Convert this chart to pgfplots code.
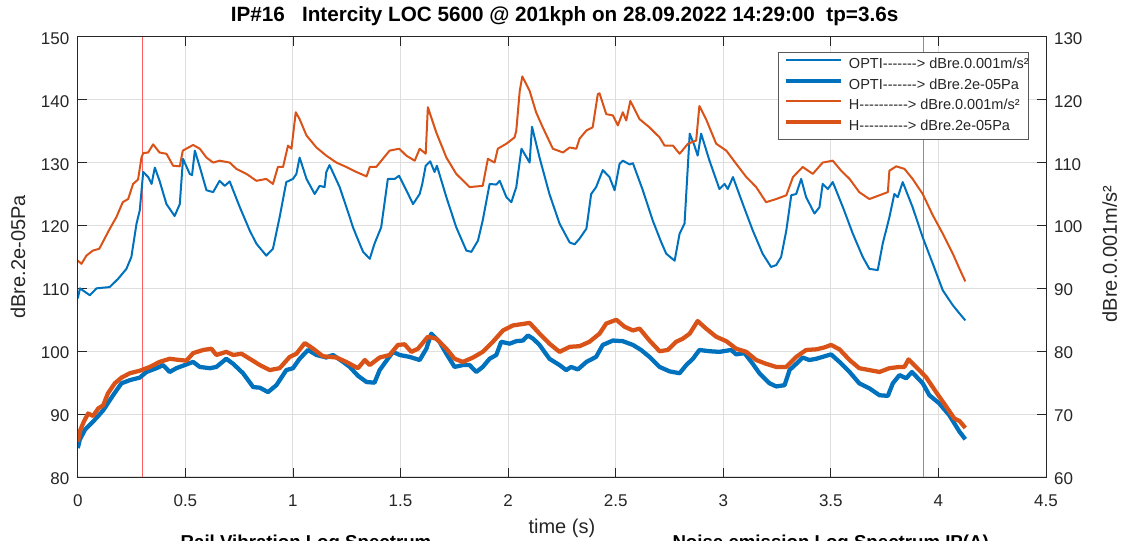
\documentclass[border=0pt]{standalone}
\usepackage{fontspec}
\setmainfont{Liberation Sans}[Ligatures=TeXOff]
\usepackage{pgfplots}
\usepackage{pgfplotstable}
\pgfplotsset{compat=1.18}
\definecolor{mblue}{RGB}{0,114,189}
\definecolor{morange}{RGB}{217,83,25}
\definecolor{mred}{RGB}{255,95,95}
\definecolor{axc}{RGB}{38,38,38}
\definecolor{gridc}{RGB}{222,222,222}

% thin orange: H, dBre.0.001m/s^2 (right axis)
\pgfplotstableread{
t v
0.000 94.4
0.017 93.9
0.040 95.2
0.070 96.0
0.100 96.3
0.149 99.5
0.179 101.3
0.209 103.7
0.234 104.2
0.257 106.6
0.280 107.3
0.296 110.8
0.304 111.5
0.327 111.6
0.350 112.9
0.380 111.6
0.412 111.4
0.443 109.5
0.474 109.4
0.488 111.9
0.536 112.8
0.567 112.2
0.598 110.8
0.629 110.0
0.659 110.3
0.706 110.0
0.737 109.0
0.784 108.2
0.830 107.1
0.876 107.4
0.907 106.6
0.930 109.3
0.954 109.3
0.977 112.7
0.993 112.2
1.013 118.0
1.031 116.9
1.063 114.3
1.109 112.4
1.155 111.1
1.202 110.0
1.248 109.3
1.295 108.5
1.342 107.8
1.357 109.3
1.387 109.3
1.418 110.6
1.449 111.9
1.494 112.2
1.527 111.1
1.566 110.3
1.589 112.2
1.617 111.4
1.627 118.8
1.666 114.8
1.713 110.8
1.759 108.2
1.821 106.1
1.882 106.3
1.906 110.6
1.937 110.0
1.952 112.2
1.992 113.0
2.030 114.0
2.038 115.1
2.054 121.4
2.066 123.7
2.100 121.4
2.130 118.0
2.161 115.6
2.208 112.2
2.255 111.6
2.286 112.4
2.317 112.2
2.332 113.8
2.364 115.1
2.393 115.6
2.417 120.9
2.425 121.0
2.456 117.7
2.487 117.5
2.510 115.9
2.533 118.0
2.549 116.7
2.568 119.8
2.611 116.9
2.657 115.6
2.704 114.0
2.727 112.7
2.766 112.7
2.797 111.4
2.836 113.0
2.874 113.5
2.889 119.0
2.920 116.9
2.967 113.0
3.014 111.9
3.060 109.8
3.107 107.7
3.153 106.1
3.199 103.7
3.246 104.2
3.293 104.8
3.324 107.7
3.369 109.3
3.416 108.2
3.462 110.0
3.509 110.3
3.548 108.7
3.587 107.4
3.632 105.3
3.679 104.2
3.726 104.8
3.765 105.3
3.772 108.7
3.804 109.4
3.842 109.0
3.880 107.4
3.927 105.0
3.974 101.6
4.020 98.7
4.067 95.5
4.098 93.1
4.125 91.1
}\Hthin

% thin blue: OPTI, dBre.0.001m/s^2 (right axis)
\pgfplotstableread{
t v
0.000 88.4
0.010 90.0
0.056 88.9
0.087 90.0
0.148 90.2
0.187 91.5
0.226 93.1
0.249 95.0
0.273 100.3
0.288 102.4
0.304 108.5
0.327 107.7
0.343 106.6
0.358 109.2
0.380 107.1
0.412 103.4
0.450 101.5
0.474 103.4
0.489 110.6
0.520 108.2
0.531 108.0
0.544 111.9
0.567 109.3
0.598 105.6
0.629 105.3
0.659 107.1
0.683 106.3
0.706 107.0
0.753 102.9
0.799 99.2
0.830 97.1
0.876 95.2
0.907 96.3
0.938 101.3
0.969 106.9
1.000 107.4
1.016 108.2
1.031 110.8
1.063 107.4
1.101 105.0
1.124 106.3
1.147 106.1
1.155 108.5
1.170 109.6
1.217 106.1
1.264 101.3
1.279 99.7
1.310 97.1
1.326 95.8
1.357 94.7
1.379 97.1
1.410 99.7
1.441 107.4
1.473 107.4
1.493 107.9
1.527 105.6
1.558 103.4
1.589 105.0
1.601 106.6
1.617 109.5
1.638 110.2
1.658 108.5
1.669 109.5
1.713 104.5
1.759 99.7
1.806 96.0
1.829 95.8
1.860 97.6
1.882 100.8
1.914 106.6
1.945 106.5
1.961 107.1
1.992 104.5
2.015 103.7
2.038 106.1
2.062 112.2
2.100 110.0
2.111 115.7
2.146 110.8
2.192 105.0
2.239 100.3
2.286 97.3
2.309 97.0
2.332 97.9
2.364 99.5
2.386 105.0
2.409 106.1
2.440 108.8
2.471 107.7
2.495 105.6
2.518 109.8
2.533 110.3
2.565 109.7
2.580 109.9
2.626 105.6
2.672 100.8
2.712 97.3
2.735 95.5
2.774 94.4
2.797 98.7
2.820 100.3
2.844 114.6
2.866 112.7
2.881 111.1
2.897 114.6
2.936 110.3
2.982 105.8
3.006 106.6
3.021 105.8
3.045 107.7
3.091 103.4
3.137 99.2
3.183 95.5
3.222 93.4
3.246 93.7
3.269 95.0
3.293 99.2
3.316 104.8
3.339 105.0
3.362 107.4
3.385 104.5
3.424 101.9
3.447 102.9
3.462 106.6
3.486 105.8
3.509 106.9
3.556 102.9
3.602 98.7
3.648 95.0
3.679 93.1
3.718 92.9
3.741 97.1
3.772 101.3
3.795 105.0
3.811 104.5
3.834 106.9
3.880 102.9
3.927 98.1
3.974 93.9
4.020 89.7
4.067 87.3
4.098 86.0
4.125 84.9
}\Othin

% thick blue: OPTI, dBre.2e-05Pa (left axis)
\pgfplotstableread{
t v
0.000 84.6
0.009 85.9
0.033 87.5
0.071 88.8
0.118 90.6
0.164 93.0
0.203 94.9
0.242 95.4
0.288 95.8
0.319 96.7
0.366 97.3
0.396 97.8
0.427 96.7
0.458 97.3
0.505 97.9
0.536 98.3
0.567 97.5
0.614 97.3
0.644 97.5
0.690 98.8
0.722 98.0
0.768 96.5
0.815 94.3
0.846 94.2
0.884 93.5
0.923 94.6
0.969 97.0
1.000 97.3
1.031 98.8
1.070 100.2
1.109 99.4
1.155 99.0
1.186 99.4
1.233 98.3
1.264 97.5
1.302 96.1
1.342 95.1
1.379 95.0
1.403 97.0
1.441 98.8
1.465 99.9
1.496 99.4
1.542 99.1
1.589 98.6
1.620 100.4
1.643 102.8
1.681 101.5
1.713 99.6
1.751 97.5
1.790 97.8
1.821 97.8
1.852 96.7
1.882 97.5
1.914 98.8
1.945 99.4
1.968 101.5
2.007 101.2
2.038 101.6
2.069 101.7
2.092 102.5
2.116 102.0
2.146 101.0
2.192 98.8
2.239 97.8
2.270 97.0
2.293 97.5
2.324 97.1
2.364 98.3
2.409 99.1
2.440 101.0
2.487 101.7
2.533 101.6
2.580 101.0
2.618 100.2
2.657 99.1
2.704 97.5
2.750 96.8
2.797 96.5
2.828 97.8
2.859 98.8
2.889 100.2
2.936 100.0
2.982 99.9
3.037 100.2
3.060 99.5
3.099 99.7
3.137 98.0
3.168 96.5
3.215 94.9
3.246 94.4
3.285 94.6
3.308 97.0
3.339 98.0
3.369 99.0
3.400 98.6
3.432 98.8
3.462 99.1
3.501 99.5
3.540 98.3
3.587 96.7
3.632 94.9
3.679 94.1
3.726 93.0
3.765 92.9
3.788 94.9
3.819 96.2
3.850 95.7
3.877 96.7
3.927 94.9
3.958 93.0
4.004 91.7
4.051 89.8
4.098 87.2
4.125 86.0
}\Othick

% thick orange: H, dBre.2e-05Pa (left axis)
\pgfplotstableread{
t v
0.000 85.6
0.012 87.5
0.028 88.8
0.048 90.1
0.071 89.7
0.095 90.9
0.118 91.4
0.140 93.3
0.172 94.9
0.203 95.8
0.242 96.5
0.288 96.9
0.335 97.5
0.380 98.3
0.427 98.8
0.474 98.6
0.505 98.5
0.536 99.7
0.583 100.2
0.621 100.4
0.644 99.4
0.690 99.9
0.722 99.4
0.761 99.6
0.799 98.8
0.846 97.8
0.892 97.0
0.938 97.3
0.985 99.1
1.016 99.6
1.055 101.3
1.094 100.4
1.139 99.2
1.202 99.0
1.248 98.3
1.302 97.3
1.334 98.6
1.357 97.8
1.403 99.0
1.449 99.4
1.488 101.0
1.519 101.1
1.550 99.9
1.581 100.4
1.627 102.3
1.666 102.0
1.713 100.4
1.751 98.8
1.790 98.3
1.837 99.0
1.882 99.9
1.929 101.5
1.976 103.3
2.022 104.1
2.062 104.3
2.100 104.5
2.146 102.8
2.192 101.2
2.239 99.9
2.286 100.7
2.332 100.8
2.378 101.5
2.425 102.8
2.456 104.4
2.503 105.0
2.541 103.9
2.580 103.3
2.611 103.6
2.657 101.7
2.704 100.0
2.742 100.2
2.781 101.5
2.812 102.0
2.844 102.8
2.881 104.8
2.920 103.6
2.967 102.3
3.014 101.6
3.060 100.4
3.107 99.9
3.153 98.6
3.199 98.0
3.246 97.5
3.293 97.5
3.339 99.1
3.385 100.2
3.432 100.3
3.470 100.6
3.501 101.0
3.540 100.3
3.587 98.6
3.632 97.3
3.679 97.0
3.726 96.7
3.772 97.3
3.819 97.5
3.842 97.5
3.861 98.7
3.896 97.5
3.942 95.9
3.989 93.5
4.036 91.2
4.074 89.3
4.098 88.9
4.125 87.8
}\Hthick

\pgfplotsset{
  common/.style={
    at={(58.35pt,48pt)}, anchor=south west,
    scale only axis, width=726.15pt, height=330.15pt,
    xmin=0, xmax=4.5,
    xtick={0,0.5,1,1.5,2,2.5,3,3.5,4,4.5},
    /pgf/number format/assume math mode=true,
    tick label style={font=\fontsize{12.75}{15}\selectfont, color=axc},
    tick align=inside,
    major tick length=6.75pt,
    every tick/.style={axc, line width=0.6pt},
    axis line style={axc, line width=0.6pt},
    xticklabel style={yshift=-9.5pt},
  }
}

\begin{document}
\begin{tikzpicture}[x=1pt,y=1pt]
\useasboundingbox (0,0) rectangle (843,405.75);
\clip (0,0) rectangle (843,405.75);

\begin{axis}[common,
  ymin=80, ymax=150, ytick={80,90,100,110,120,130,140,150},
  ytick pos=left,
  yticklabel style={xshift=-2.9pt, yshift=-1.2pt},
  xmajorgrids, ymajorgrids,
  grid style={gridc, line width=0.75pt},
  title={IP\#16\ \ \ Intercity LOC 5600 @ 201kph on 28.09.2022 14:29:00\ \ tp=3.6s},
  title style={at={(0.5,1)}, anchor=base, xshift=2pt, yshift=5.5pt, font=\fontsize{15.5}{18}\selectfont\bfseries, color=black},
  xlabel={time (s)},
  xlabel style={at={(0.5,0)}, anchor=base, yshift=-42.2pt, font=\fontsize{15}{18}\selectfont, color=axc},
  ylabel={dBre.2e-05Pa},
  ylabel style={at={(-0.0545,0.5)}, anchor=base, font=\fontsize{15}{18}\selectfont, color=axc},
]
\addplot[mred, line width=0.8pt, forget plot] coordinates {(0.30,80) (0.30,150)};
\addplot[mred, line width=0.8pt, forget plot] coordinates {(3.93,80) (3.93,150)};
\addplot[mblue, line width=3.2pt, line join=round] table[x=t, y=v] {\Othick};
\addplot[morange, line width=3.2pt, line join=round] table[x=t, y=v] {\Hthick};
\end{axis}

\begin{axis}[common,
  ymin=60, ymax=130, ytick={60,70,80,90,100,110,120,130},
  ytick pos=right, yticklabel pos=right,
  xtick=\empty,
  axis line style={draw=none},
  yticklabel style={xshift=2.5pt, yshift=-1.2pt},
  ylabel={dBre.0.001m/s²},
  ylabel style={at={(1.0733,0.507)}, anchor=base, font=\fontsize{15}{18}\selectfont, color=axc},
  legend cell align=left,
  legend image code/.code={\path (0pt,0pt) (46pt,0pt); \draw[#1, line cap=butt] (3.75pt,3.6pt) -- (45pt,3.6pt);},
  legend style={at={(0.9825,0.9655)}, anchor=north east, draw=black!65, line width=0.6pt,
    font=\fontsize{10.9}{13}\selectfont, text=axc,
    inner xsep=0pt, inner ysep=4.1pt, row sep=4.75pt, column sep=3.75pt,
    nodes={inner xsep=0pt, inner ysep=0pt, text height=8.2pt, text depth=2.5pt}},
]
\addplot[mblue, line width=1.5pt, line join=round] table[x=t, y=v] {\Othin};
\addlegendentry{OPTI-------> dBre.0.001m/s²}
\addlegendimage{mblue, line width=3pt}
\addlegendentry{OPTI-------> dBre.2e-05Pa}
\addplot[morange, line width=1.5pt, line join=round] table[x=t, y=v] {\Hthin};
\addlegendentry{H----------> dBre.0.001m/s²}
\addlegendimage{morange, line width=3pt}
\addlegendentry{H----------> dBre.2e-05Pa}
\end{axis}

\node[anchor=base, font=\fontsize{14}{16}\selectfont\bfseries] at (229.5,-6) {Rail Vibration Log Spectrum};
\node[anchor=base, font=\fontsize{14}{16}\selectfont\bfseries] at (623,-6) {Noise emission Log Spectrum IP(A)};
\end{tikzpicture}
\end{document}
